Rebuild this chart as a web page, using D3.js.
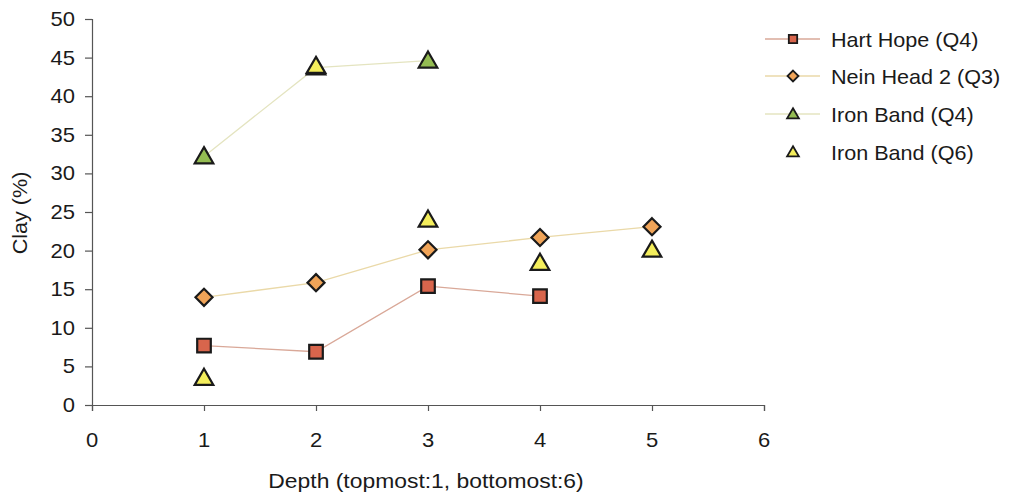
<!DOCTYPE html>
<html><head><meta charset="utf-8">
<script src="https://cdn.jsdelivr.net/npm/d3@7"></script>
<style>body{margin:0;background:#fff;} svg{display:block;font-family:"Liberation Sans",Arial,sans-serif;}</style>
</head><body>
<svg id="c" width="1009" height="498"></svg>
<script>
const xTicks = [0,1,2,3,4,5,6];
const yTicks = [0,5,10,15,20,25,30,35,40,45,50];
const hartHopeX = [1,2,3,4];
const hartHopeY = [7.7,6.9,15.4,14.1];
const neinHeadX = [1,2,3,4,5];
const neinHeadY = [13.95,15.85,20.1,21.7,23.1];
const ironQ4X = [1,2,3];
const ironQ4Y = [32.2,43.7,44.6];
const ironQ6X = [1,2,3,4,5];
const ironQ6Y = [3.5,43.9,24.0,18.4,20.1];
const seriesNames = ["Hart Hope (Q4)","Nein Head 2 (Q3)","Iron Band (Q4)","Iron Band (Q6)"];

const diamond = {draw(ctx,size){const r=Math.sqrt(size)/Math.SQRT2; ctx.moveTo(0,-r);ctx.lineTo(r,0);ctx.lineTo(0,r);ctx.lineTo(-r,0);ctx.closePath();}};

const series = [
  {name:seriesNames[0], xs:hartHopeX, ys:hartHopeY, shape:d3.symbolSquare, size:185, lsize:70, fill:"#d8654c", line:"#d9a898"},
  {name:seriesNames[1], xs:neinHeadX, ys:neinHeadY, shape:diamond, size:145, lsize:60, fill:"#f0a458", line:"#ead9a8"},
  {name:seriesNames[2], xs:ironQ4X, ys:ironQ4Y, shape:d3.symbolTriangle, size:150, lsize:60, fill:"#94bc52", line:"#e4e4c0"},
  {name:seriesNames[3], xs:ironQ6X, ys:ironQ6Y, shape:d3.symbolTriangle, size:150, lsize:60, fill:"#f4ee5c", line:null}
];

const svg = d3.select("#c");
const x = d3.scaleLinear().domain([0,6]).range([92,764]);
const y = d3.scaleLinear().domain([0,50]).range([405,19]);
const axisColor = "#555";
const txt = "#1a1a1a";

const gx = svg.append("g").attr("transform","translate(0,405)")
  .call(d3.axisBottom(x).tickValues(xTicks).tickSize(6).tickFormat(""));
const gy = svg.append("g").attr("transform","translate(92,0)")
  .call(d3.axisLeft(y).tickValues(yTicks).tickSize(7).tickFormat(""));
[gx,gy].forEach(g=>{
  g.selectAll("path,line").attr("stroke",axisColor).attr("stroke-width",1.2);
});

svg.append("g").selectAll("text").data(xTicks).enter().append("text")
  .attr("transform",d=>`translate(${x(d)},447) scale(1.1,1)`)
  .attr("text-anchor","middle").style("font-size","20px").attr("fill",txt).text(d=>d);
svg.append("g").selectAll("text").data(yTicks).enter().append("text")
  .attr("transform",d=>`translate(75,${y(d)+7}) scale(1.1,1)`)
  .attr("text-anchor","end").style("font-size","20px").attr("fill",txt).text(d=>d);

svg.append("text").attr("transform","translate(27,213) rotate(-90) scale(1.08,1)").attr("text-anchor","middle")
  .style("font-size","20px").attr("fill",txt).text("Clay (%)");
svg.append("text").attr("transform","translate(426,488) scale(1.09,1)").attr("text-anchor","middle")
  .style("font-size","21px").attr("fill",txt).text("Depth (topmost:1, bottomost:6)");

const plot = svg.append("g");
series.forEach(s=>{
  const pts = s.xs.map((v,i)=>[v,s.ys[i]]);
  if(s.line){
    plot.append("path").datum(pts)
      .attr("d",d3.line().x(d=>x(d[0])).y(d=>y(d[1])))
      .attr("fill","none").attr("stroke",s.line).attr("stroke-width",1.3);
  }
});
series.forEach(s=>{
  const pts = s.xs.map((v,i)=>[v,s.ys[i]]);
  plot.selectAll(null).data(pts).enter().append("path")
    .attr("transform",d=>`translate(${x(d[0])},${y(d[1]) + (s.shape===d3.symbolTriangle?1.5:0)})`)
    .attr("d",d3.symbol().type(s.shape).size(s.size))
    .attr("fill",s.fill).attr("stroke",txt).attr("stroke-width",2.2).attr("stroke-linejoin","miter");
});

const legend = svg.append("g");
const legY = [39,76,114,152];
series.forEach((s,i)=>{
  const g = legend.append("g").attr("transform",`translate(0,${legY[i]})`);
  if(s.line) g.append("line").attr("x1",765).attr("x2",820).attr("y1",0).attr("y2",0).attr("stroke",s.line).attr("stroke-width",1.3);
  g.append("path").attr("transform",`translate(793,${s.shape===d3.symbolTriangle?1:0})`)
    .attr("d",d3.symbol().type(s.shape).size(s.lsize))
    .attr("fill",s.fill).attr("stroke",txt).attr("stroke-width",1.8);
  g.append("text").attr("transform","translate(831,8) scale(1.08,1)").style("font-size","20px").attr("fill",txt).text(s.name);
});
</script>
</body></html>
